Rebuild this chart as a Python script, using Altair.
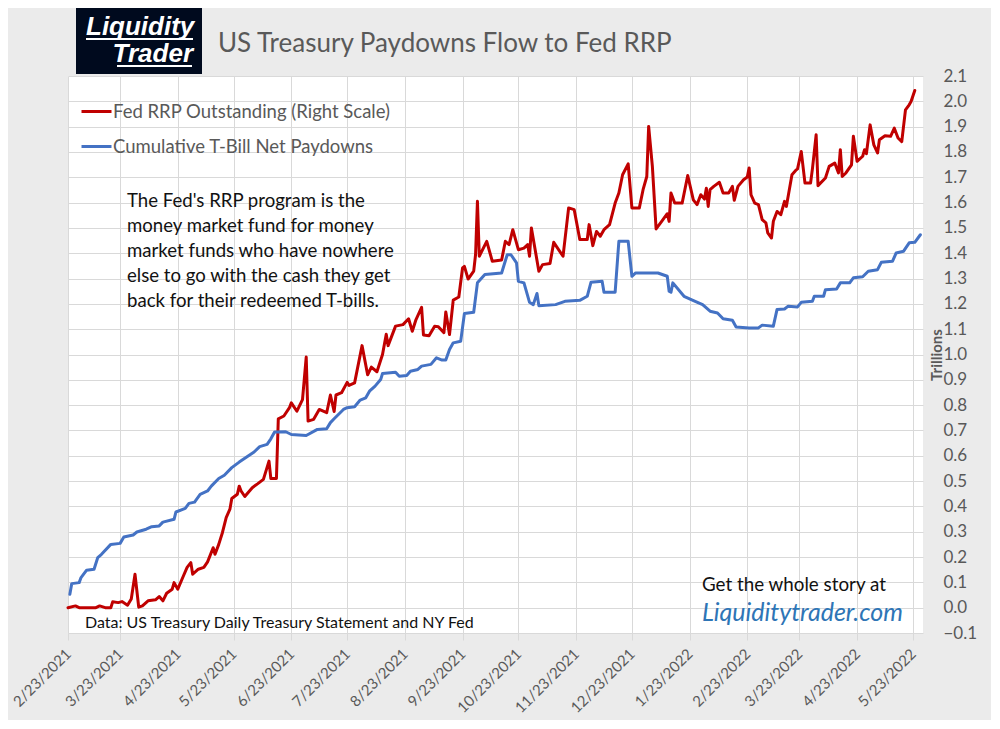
import altair as alt
import pandas as pd

FONT = "Lato"
START = pd.Timestamp("2021-02-23")

# Fed RRP outstanding (trillions), day offsets from 2/23/2021
rrp_day = [0, 4, 6, 15, 17, 20, 23, 24, 27, 29, 32, 34, 36, 38, 40, 43, 47, 49, 51, 53,
           56, 57, 59, 62, 64, 66, 67, 70, 73, 75, 78, 79, 81, 83, 85, 87, 88, 91, 92, 93,
           95, 99, 102, 105, 108, 109, 112, 113, 116, 119, 120, 123, 126, 128, 129, 132, 135, 139, 141, 143,
           144, 147, 150, 151, 154, 158, 161, 163, 166, 169, 171, 172, 176, 180, 183, 185, 187, 190, 191, 194,
           197, 199, 202, 203, 205, 207, 210, 212, 213, 215, 218, 219, 220, 221, 225, 228, 233, 235, 237, 239,
           242, 245, 247, 248, 249, 253, 255, 259, 261, 266, 269, 272, 275, 279, 280, 282, 284, 286, 288, 291,
           294, 296, 298, 301, 303, 307, 309, 311, 312, 314, 316, 319, 322, 323, 324, 326, 330, 333, 336, 338,
           340, 342, 343, 344, 345, 347, 350, 352, 355, 357, 358, 360, 363, 365, 366, 367, 369, 371, 373, 375,
           376, 378, 379, 381, 383, 385, 386, 389, 391, 392, 394, 396, 399, 400, 402, 403, 407, 409, 412, 414,
           415, 416, 418, 421, 422, 424, 427, 428, 429, 431, 433, 435, 436, 439, 442, 444, 446, 448, 450, 452,
           453, 455]
rrp_val = [0.000, 0.007, 0.000, 0.000, 0.007, 0.000, 0.000, 0.023, 0.020, 0.024, 0.010, 0.034, 0.132, 0.002, 0.007, 0.027, 0.031, 0.044, 0.027, 0.057,
           0.073, 0.099, 0.073, 0.125, 0.159, 0.178, 0.132, 0.152, 0.159, 0.181, 0.237, 0.211, 0.250, 0.297, 0.356, 0.389, 0.431, 0.448, 0.480, 0.461,
           0.439, 0.474, 0.490, 0.507, 0.579, 0.510, 0.510, 0.746, 0.757, 0.790, 0.809, 0.776, 0.822, 0.990, 0.737, 0.744, 0.783, 0.770, 0.840, 0.775,
           0.840, 0.849, 0.890, 0.878, 0.888, 1.035, 0.920, 0.950, 0.932, 1.000, 1.080, 1.035, 1.112, 1.118, 1.141, 1.092, 1.138, 1.186, 1.077, 1.074,
           1.112, 1.110, 1.086, 1.168, 1.079, 1.215, 1.227, 1.342, 1.348, 1.298, 1.329, 1.395, 1.605, 1.388, 1.447, 1.368, 1.373, 1.447, 1.434, 1.493,
           1.414, 1.420, 1.434, 1.388, 1.500, 1.329, 1.355, 1.359, 1.443, 1.388, 1.579, 1.572, 1.454, 1.454, 1.513, 1.430, 1.486, 1.467, 1.493, 1.513,
           1.598, 1.638, 1.710, 1.753, 1.579, 1.579, 1.651, 1.703, 1.901, 1.743, 1.496, 1.526, 1.556, 1.526, 1.638, 1.598, 1.598, 1.707, 1.611, 1.592,
           1.631, 1.614, 1.657, 1.585, 1.651, 1.664, 1.680, 1.638, 1.638, 1.664, 1.609, 1.664, 1.690, 1.701, 1.737, 1.631, 1.598, 1.592, 1.533, 1.520,
           1.480, 1.460, 1.526, 1.565, 1.552, 1.605, 1.585, 1.710, 1.727, 1.733, 1.802, 1.677, 1.677, 1.733, 1.868, 1.667, 1.697, 1.743, 1.756, 1.717,
           1.809, 1.703, 1.717, 1.749, 1.862, 1.763, 1.783, 1.809, 1.793, 1.907, 1.828, 1.796, 1.848, 1.864, 1.862, 1.894, 1.855, 1.841, 1.966, 1.986,
           1.999, 2.043]

# Cumulative T-bill net paydowns (trillions)
bill_day = [1, 2, 6, 7, 10, 14, 16, 18, 23, 28, 30, 35, 37, 42, 45, 49, 51, 57, 58, 63,
            65, 68, 71, 75, 77, 81, 84, 88, 92, 96, 100, 103, 107, 109, 111, 117, 120, 128, 134, 139,
            141, 143, 148, 150, 154, 157, 160, 162, 165, 168, 169, 176, 178, 182, 184, 188, 190, 195, 198, 201,
            203, 205, 207, 211, 213, 218, 220, 224, 233, 236, 238, 241, 242, 245, 248, 250, 252, 253, 262, 267,
            275, 279, 281, 287, 288, 294, 296, 301, 303, 305, 317, 322, 323, 324, 325, 331, 337, 341, 345, 349,
            352, 357, 359, 366, 371, 373, 379, 381, 385, 387, 392, 394, 400, 401, 406, 407, 413, 415, 420, 422,
            427, 430, 435, 437, 443, 445, 449, 452, 455, 458]
bill_val = [0.053, 0.095, 0.099, 0.119, 0.148, 0.152, 0.198, 0.211, 0.250, 0.254, 0.279, 0.287, 0.299, 0.310, 0.320, 0.323, 0.338, 0.349, 0.378, 0.392,
            0.412, 0.417, 0.448, 0.461, 0.480, 0.510, 0.523, 0.553, 0.575, 0.595, 0.615, 0.636, 0.645, 0.667, 0.694, 0.695, 0.684, 0.680, 0.704, 0.707,
            0.731, 0.746, 0.783, 0.790, 0.794, 0.820, 0.829, 0.855, 0.875, 0.901, 0.925, 0.930, 0.914, 0.917, 0.934, 0.941, 0.954, 0.961, 0.987, 0.978,
            0.978, 1.020, 1.046, 1.052, 1.162, 1.167, 1.283, 1.316, 1.322, 1.394, 1.394, 1.362, 1.289, 1.283, 1.206, 1.197, 1.241, 1.193, 1.197, 1.210,
            1.214, 1.230, 1.285, 1.289, 1.246, 1.246, 1.447, 1.447, 1.309, 1.322, 1.322, 1.309, 1.250, 1.246, 1.283, 1.230, 1.210, 1.197, 1.171, 1.164,
            1.141, 1.135, 1.109, 1.105, 1.105, 1.116, 1.112, 1.178, 1.180, 1.191, 1.188, 1.206, 1.210, 1.230, 1.230, 1.256, 1.259, 1.283, 1.283, 1.303,
            1.307, 1.329, 1.335, 1.364, 1.368, 1.401, 1.408, 1.441, 1.443, 1.473]

series_names = ["Fed RRP Outstanding (Right Scale)", "Cumulative T-Bill Net Paydowns"]
series_colors = ["#C00000", "#4472C4"]

tick_dates = [(2021, 2, 23), (2021, 3, 23), (2021, 4, 23), (2021, 5, 23), (2021, 6, 23), (2021, 7, 23),
              (2021, 8, 23), (2021, 9, 23), (2021, 10, 23), (2021, 11, 23), (2021, 12, 23), (2022, 1, 23),
              (2022, 2, 23), (2022, 3, 23), (2022, 4, 23), (2022, 5, 23)]
y_ticks = [-0.1, 0.0, 0.1, 0.2, 0.3, 0.4, 0.5, 0.6, 0.7, 0.8, 0.9, 1.0, 1.1, 1.2, 1.3, 1.4, 1.5,
           1.6, 1.7, 1.8, 1.9, 2.0, 2.1]

note_lines = ["The Fed's RRP program is the",
              "money market fund for money",
              "market funds who have nowhere",
              "else to go with the cash they get",
              "back for their redeemed  T-bills."]


def frame(days, vals, name):
    return pd.DataFrame({
        "date": [(START + pd.Timedelta(days=d)).strftime("%Y-%m-%d") for d in days],
        "value": vals,
        "series": name,
    })


df = pd.concat([frame(rrp_day, rrp_val, series_names[0]),
                frame(bill_day, bill_val, series_names[1])], ignore_index=True)

W, H = 855, 557
GRID = "#D9D9D9"
LABEL = "#595959"

tick_values = [alt.DateTime(year=y, month=m, date=d, utc=True) for (y, m, d) in tick_dates]

lines = alt.Chart(df).mark_line(strokeWidth=3, strokeJoin="round", strokeCap="round").encode(
    x=alt.X("date:T",
            scale=alt.Scale(type="utc",
                            domain=[alt.DateTime(year=2021, month=2, date=23, utc=True),
                                    alt.DateTime(year=2022, month=5, date=28, hours=10, utc=True)]),
            axis=alt.Axis(values=tick_values, format="%-m/%-d/%Y", title=None,
                          labelAngle=315, labelAlign="right", labelBaseline="middle",
                          labelPadding=11, labelFontSize=15, labelColor=LABEL, labelFont=FONT,
                          labelFlush=False, labelOverlap=False,
                          ticks=True, tickSize=7, tickColor=GRID, domain=False,
                          grid=True, gridColor=GRID, gridWidth=1)),
    y=alt.Y("value:Q",
            scale=alt.Scale(domain=[-0.1, 2.1], nice=False, zero=False),
            axis=alt.Axis(orient="right", values=y_ticks, format=".1f",
                          title="Trillions", titleAngle=270, titleX=13, titleY=H / 2,
                          titleAlign="center", titleBaseline="middle",
                          titleFontWeight="bold", titleFontSize=15, titleColor=LABEL, titleFont=FONT,
                          labelFontSize=17, labelColor=LABEL, labelFont=FONT, labelPadding=20,
                          labelAlign="left", labelBaseline="middle",
                          ticks=False, domain=False, grid=True, gridColor=GRID, gridWidth=1)),
    color=alt.Color("series:N",
                    scale=alt.Scale(domain=series_names, range=series_colors),
                    legend=alt.Legend(title=None, orient="none", legendX=12, legendY=19,
                                      symbolType="stroke", symbolStrokeWidth=3, symbolSize=900,
                                      labelFontSize=18.5, labelColor=LABEL, labelFont=FONT,
                                      labelOffset=0, rowPadding=9, labelLimit=500, padding=0)),
)

one = alt.Chart(pd.DataFrame({"k": [0]}))

title = one.mark_text(text="US Treasury Paydowns Flow to Fed RRP", align="left", baseline="alphabetic",
                      fontSize=26, font=FONT, color=LABEL).encode(x=alt.value(150), y=alt.value(-24))

logo_box = one.mark_rect(color="#000A1E").encode(
    x=alt.value(8), x2=alt.value(134), y=alt.value(-68), y2=alt.value(-2))
logo_t1 = one.mark_text(text="Liquidity", align="left", baseline="alphabetic", fontSize=26,
                        font="Liberation Sans", fontStyle="italic", fontWeight="bold",
                        color="white").encode(x=alt.value(18), y=alt.value(-41))
logo_t2 = one.mark_text(text="Trader", align="right", baseline="alphabetic", fontSize=26,
                        font="Liberation Sans", fontStyle="italic", fontWeight="bold",
                        color="white").encode(x=alt.value(125), y=alt.value(-14))
logo_u1 = one.mark_rule(color="white", strokeWidth=2).encode(
    x=alt.value(18), x2=alt.value(125), y=alt.value(-37))
logo_u2 = one.mark_rule(color="white", strokeWidth=2).encode(
    x=alt.value(49), x2=alt.value(124), y=alt.value(-10))

note = one.mark_text(text=note_lines, align="left", baseline="alphabetic", lineHeight=25,
                     fontSize=18.6, font=FONT, color="#111111").encode(x=alt.value(59), y=alt.value(131))

source = one.mark_text(text="Data: US Treasury Daily Treasury Statement and NY Fed", align="left",
                       baseline="alphabetic", fontSize=16, font=FONT, color="#111111").encode(
    x=alt.value(17), y=alt.value(552))

story = one.mark_text(text="Get the whole story at", align="left", baseline="alphabetic",
                      fontSize=18.8, font=FONT, color="#111111").encode(x=alt.value(634), y=alt.value(515))

site = one.mark_text(text="Liquiditytrader.com", align="left", baseline="alphabetic",
                     fontSize=25, font=FONT, fontStyle="italic", color="#2E75B6").encode(
    x=alt.value(634), y=alt.value(545))

chart = alt.layer(lines, title, logo_box, logo_t1, logo_t2, logo_u1, logo_u2,
                  note, source, story, site).properties(
    width=W, height=H,
    autosize=alt.AutoSizeParams(type="none"),
    padding={"left": 60, "top": 68, "right": 68, "bottom": 87},
    background="#EBEBEB",
).configure_view(fill="white", strokeWidth=0)

chart.save("out.html", embed_options={"renderer": "svg", "actions": False})
